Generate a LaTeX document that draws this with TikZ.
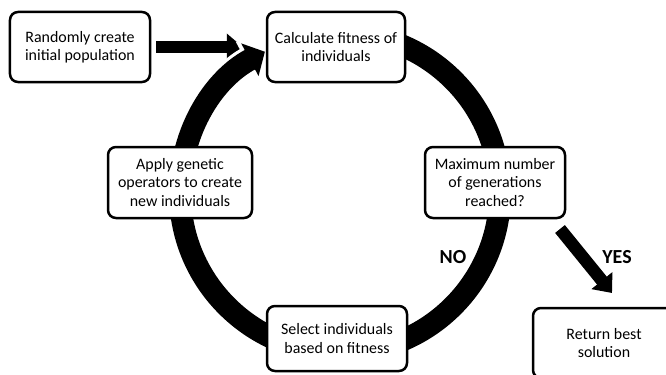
\documentclass[tikz,border=0pt]{standalone}
\usepackage{fontspec}
\setmainfont{Carlito}
\usetikzlibrary{arrows.meta,backgrounds}
\begin{document}
\begin{tikzpicture}[x=1bp,y=1bp,
	box/.style={draw,line width=2.5bp,rounded corners=8bp,fill=white,align=center,
		minimum width=140bp,minimum height=70bp,inner sep=0pt,
		font=\fontsize{16}{18.5}\selectfont},
	fat/.style={line width=12.5bp,-{Triangle[width=26bp,length=16bp]}},
	lbl/.style={font=\fontsize{20}{20}\selectfont\bfseries}]
	\useasboundingbox (0,0) rectangle (666,374);
	\node[box] (rand) at (80,327) {Randomly create\\initial population};
	\node[box,minimum width=138bp] (calc) at (336,327) {Calculate fitness of\\individuals};
	\node[box,minimum height=71bp] (max) at (495,191.5) {Maximum number\\of generations\\reached?};
	\node[box,minimum width=144bp,minimum height=71bp] (apply) at (180,191.5) {Apply genetic\\operators to create\\new individuals};
	\node[box,minimum height=65bp] (sel) at (337,35.5) {Select individuals\\based on fitness};
	\node[box,minimum width=142bp] (ret) at (604,31) {Return best\\solution};
	\node[lbl] (no) at (453,117) {NO};
	\node[lbl] (yes) at (617,117) {YES};
	\coordinate (ring) at (340,181);
	\coordinate (ys) at (560,145);
	\coordinate (ye) at (612,81);
	\begin{pgfonlayer}{background}
		\draw[fat,shorten <=5bp,shorten >=23bp] (rand) -- (calc);
		% white rim where the loop passes over the first arrow
		\draw[white,line width=28bp,-{Triangle[width=44bp,length=21bp]}] ([shift={(165:160)}]ring) arc[start angle=165,end angle=118,radius=160];
		\draw[line width=22bp,-{Triangle[width=36bp,length=17bp]}] ([shift={(95:160)}]ring) arc[start angle=95,end angle=-242,radius=160];
	\end{pgfonlayer}
	\draw[fat] (ys) -- (ye);
\end{tikzpicture}
\end{document}
